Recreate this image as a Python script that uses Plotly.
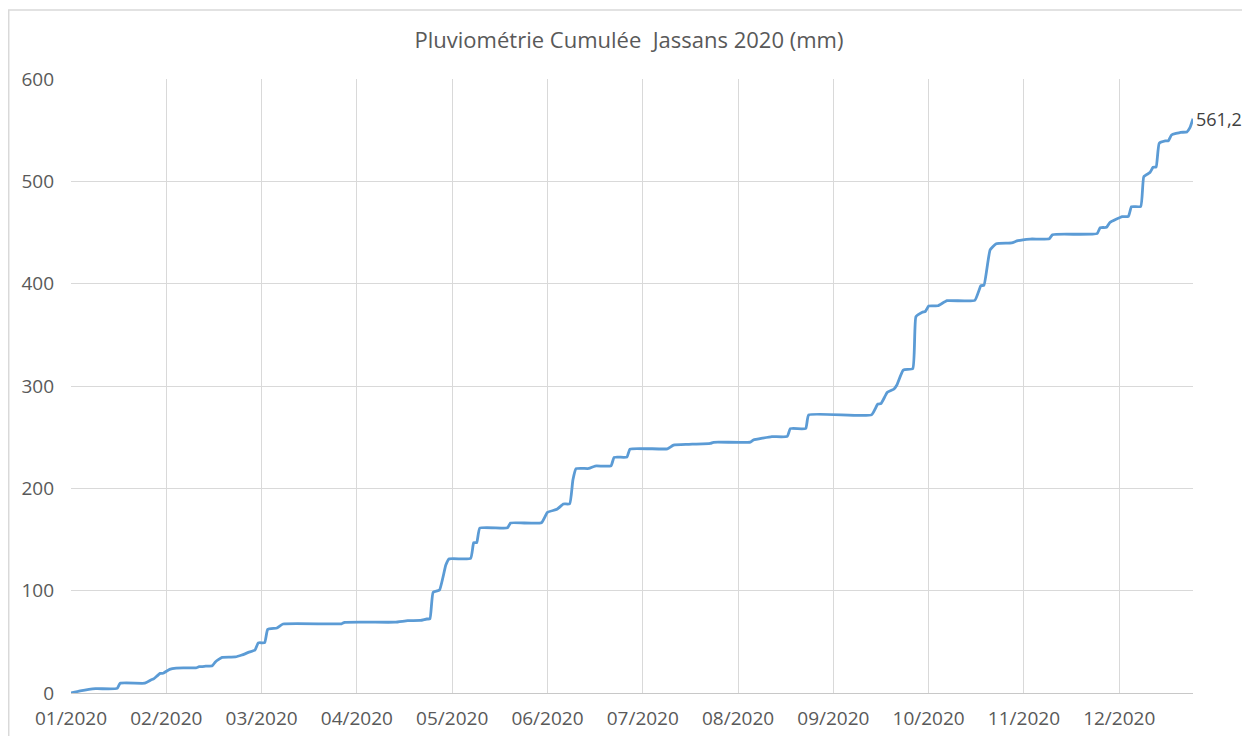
import calendar

import pandas as pd
import plotly.graph_objects as go

TITLE = "Pluviométrie Cumulée\u00a0 Jassans 2020 (mm)"
LINE_COLOR = "#5b9bd5"
GRID = "#d9d9d9"
TEXT = "#595959"

month_labels = ["01/2020", "02/2020", "03/2020", "04/2020", "05/2020", "06/2020",
                "07/2020", "08/2020", "09/2020", "10/2020", "11/2020", "12/2020"]

# cumulative rainfall (mm) at the days where it changes
dates = [
    "2020-01-01", "2020-01-04", "2020-01-09", "2020-01-16", "2020-01-17", "2020-01-25",
    "2020-01-27", "2020-01-28", "2020-01-30", "2020-01-31",
    "2020-02-02", "2020-02-04", "2020-02-10", "2020-02-11", "2020-02-13", "2020-02-15",
    "2020-02-16", "2020-02-18", "2020-02-22", "2020-02-24", "2020-02-26", "2020-02-28",
    "2020-02-29",
    "2020-03-02", "2020-03-03", "2020-03-06", "2020-03-08", "2020-03-27", "2020-03-28",
    "2020-04-13", "2020-04-17", "2020-04-21", "2020-04-23", "2020-04-24", "2020-04-25",
    "2020-04-27", "2020-04-29", "2020-04-30",
    "2020-05-07", "2020-05-08", "2020-05-09", "2020-05-10", "2020-05-19", "2020-05-20",
    "2020-05-30",
    "2020-06-01", "2020-06-04", "2020-06-06", "2020-06-08", "2020-06-09", "2020-06-10",
    "2020-06-14", "2020-06-16", "2020-06-21", "2020-06-22", "2020-06-26", "2020-06-27",
    "2020-07-09", "2020-07-11", "2020-07-16", "2020-07-23", "2020-07-24",
    "2020-08-05", "2020-08-06", "2020-08-09", "2020-08-12", "2020-08-17", "2020-08-18",
    "2020-08-23", "2020-08-24",
    "2020-09-13", "2020-09-15", "2020-09-16", "2020-09-18", "2020-09-20", "2020-09-21",
    "2020-09-23", "2020-09-26", "2020-09-27", "2020-09-29", "2020-09-30",
    "2020-10-01", "2020-10-04", "2020-10-07", "2020-10-16", "2020-10-18", "2020-10-19",
    "2020-10-21", "2020-10-23", "2020-10-28", "2020-10-30",
    "2020-11-03", "2020-11-09", "2020-11-10", "2020-11-24", "2020-11-25", "2020-11-27",
    "2020-11-28", "2020-11-30",
    "2020-12-02", "2020-12-04", "2020-12-05", "2020-12-08", "2020-12-09", "2020-12-11",
    "2020-12-12", "2020-12-13", "2020-12-14", "2020-12-16", "2020-12-17", "2020-12-18",
    "2020-12-21", "2020-12-23", "2020-12-24", "2020-12-25",
]
cumul_mm = [
    0.0, 2.0, 4.2, 4.5, 9.5, 9.6,
    12.7, 14.0, 19.2, 19.3,
    23.1, 24.4, 24.6, 25.7, 26.2, 26.7,
    30.6, 34.9, 35.2, 37.1, 39.7, 42.0,
    49.0,
    49.2, 62.2, 63.5, 67.4, 67.6, 69.0,
    69.2, 70.7, 70.9, 72.3, 72.5, 98.4,
    100.6, 125.0, 131.0,
    131.5, 146.9, 147.0, 161.2, 161.4, 166.1,
    166.3,
    176.6, 179.5, 184.7, 184.9, 208.0, 219.2,
    219.4, 221.8, 222.0, 230.3, 230.5, 238.4,
    238.6, 242.3, 243.0, 244.0, 245.0,
    245.2, 247.2, 249.0, 250.5, 250.7, 258.3,
    258.5, 271.7,
    271.8, 282.4, 282.8, 293.8, 296.8, 301.0,
    315.6, 317.0, 367.7, 372.0, 373.0,
    378.2, 378.4, 383.4, 383.6, 398.0, 398.5,
    433.0, 439.0, 439.8, 442.0,
    443.6, 443.9, 447.9, 448.9, 454.7, 455.0,
    459.6, 462.9,
    465.5, 465.8, 475.2, 475.5, 504.6, 508.6,
    513.7, 514.0, 537.2, 539.5, 539.7, 545.3,
    547.9, 548.2, 552.4, 561.2,
]

# the chart gives every month the same width, so place each day as a fraction of its month
d = pd.to_datetime(pd.Series(dates))
xpos = [(t.month - 1) + (t.day - 1) / calendar.monthrange(t.year, t.month)[1] for t in d]

fig = go.Figure(go.Scatter(
    x=xpos, y=cumul_mm, mode="lines",
    line=dict(color=LINE_COLOR, width=2.8, shape="spline", smoothing=0.4),
    hoverinfo="skip",
))

fig.add_annotation(x=xpos[-1], y=cumul_mm[-1], text=f"{cumul_mm[-1]:.1f}".replace(".", ","),
                   showarrow=False, xanchor="left", yanchor="middle", xshift=1,
                   font=dict(size=18, color="#404040"))

# light frame around the whole chart (Excel chart area border)
fig.add_shape(type="rect", xref="paper", yref="paper",
              x0=-0.0555, x1=1.049, y0=-0.2, y1=1.1125,
              line=dict(color=GRID, width=1.5), fillcolor="rgba(0,0,0,0)", layer="below")

# the page body adds an 8px offset, so the figure is sized to end at the window edge
fig.update_layout(
    width=1242, height=728,
    margin=dict(l=63, r=57, t=71, b=43),
    paper_bgcolor="white", plot_bgcolor="white",
    font=dict(family="Open Sans, sans-serif", color=TEXT, size=19),
    title=dict(text=TITLE, x=0.5, xanchor="center", y=0.956, yanchor="middle",
               font=dict(size=22, color=TEXT)),
    showlegend=False,
    xaxis=dict(range=[0, xpos[-1]], tickmode="array", tickvals=list(range(12)),
               ticktext=month_labels, showgrid=True, gridcolor=GRID, gridwidth=1,
               zeroline=False, showline=True, linecolor="#c8c8c8", linewidth=1,
               ticks="", ticklabelstandoff=8, tickfont=dict(size=19), automargin=False),
    yaxis=dict(range=[0, 600], tickmode="array", tickvals=[0, 100, 200, 300, 400, 500, 600],
               showgrid=True, gridcolor=GRID, gridwidth=1, zeroline=False,
               showline=False, ticks="", ticklabelstandoff=16, tickfont=dict(size=19),
               automargin=False),
)

fig.write_html("out.html")
